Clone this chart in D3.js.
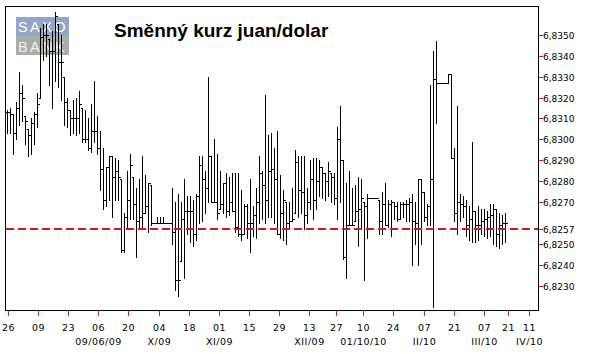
<!DOCTYPE html>
<html>
<head>
<meta charset="utf-8">
<title>Směnný kurz juan/dolar</title>
<script src="https://d3js.org/d3.v7.min.js"></script>
<style>
  body { margin: 0; background: #fff; }
  svg { display: block; }
  .title { font-family: "Liberation Sans", Arial, sans-serif; font-size: 19px; font-weight: bold; fill: #000; }
  .logo { font-family: "Liberation Sans", Arial, sans-serif; font-size: 14.5px; letter-spacing: 2.4px; }
  .ylab { font-family: "DejaVu Sans", Verdana, sans-serif; font-size: 9px; fill: #000; }
  .xlab { font-family: "DejaVu Sans", Verdana, sans-serif; font-size: 9.5px; letter-spacing: 0.5px; fill: #000; text-anchor: middle; }
  .crisp { shape-rendering: crispEdges; }
</style>
</head>
<body>
<div id="chart"></div>
<script>
// daily CNY/USD bars, 26 Aug 2009 .. early Apr 2010
const highs = [
  6.8314, 6.8315, 6.8312, 6.8318, 6.8332, 6.8326, 6.8311, 6.8305, 6.8310, 6.8313,
  6.8322, 6.8353, 6.8355, 6.8355, 6.8348, 6.8352, 6.8361, 6.8355, 6.8350, 6.8330,
  6.8320, 6.8314, 6.8319, 6.8320, 6.8323, 6.8315, 6.8314, 6.8310, 6.8317, 6.8328,
  6.8311, 6.8304, 6.8296, 6.8287, 6.8292, 6.8292, 6.8291, 6.8290, 6.8281, 6.8265,
  6.8285, 6.8293, 6.8282, 6.8277, 6.8281, 6.8292, 6.8283, 6.8279, 6.8278, 6.8260,
  6.8263, 6.8263, 6.8263, 6.8260, 6.8260, 6.8277, 6.8270, 6.8274, 6.8270, 6.8281,
  6.8273, 6.8273, 6.8271, 6.8274, 6.8292, 6.8292, 6.8285, 6.8330, 6.8292, 6.8300,
  6.8293, 6.8285, 6.8279, 6.8284, 6.8282, 6.8284, 6.8284, 6.8284, 6.8276, 6.8269,
  6.8269, 6.8281, 6.8268, 6.8277, 6.8292, 6.8285, 6.8321, 6.8302, 6.8303, 6.8296,
  6.8304, 6.8283, 6.8276, 6.8270, 6.8270, 6.8277, 6.8295, 6.8292, 6.8292, 6.8292,
  6.8277, 6.8290, 6.8291, 6.8291, 6.8290, 6.8287, 6.8284, 6.8289, 6.8284, 6.8284,
  6.8306, 6.8316, 6.8290, 6.8279, 6.8285, 6.8277, 6.8278, 6.8282, 6.8281, 6.8270,
  6.8274, 6.8272, 6.8272, 6.8272, 6.8271, 6.8275, 6.8279, 6.8271, 6.8271, 6.8270,
  6.8270, 6.8270, 6.8270, 6.8271, 6.8272, 6.8274, 6.8270, 6.8281, 6.8281, 6.8275,
  6.8269, 6.8326, 6.8342, 6.8347, 6.8327, 6.8327, 6.8327, 6.8331, 6.8331, 6.8296,
  6.8316, 6.8274, 6.8273, 6.8271, 6.8268, 6.8299, 6.8266, 6.8268, 6.8267, 6.8267,
  6.8266, 6.8269, 6.8269, 6.8267, 6.8265, 6.8264, 6.8265
];
const lows = [
  6.8303, 6.8303, 6.8293, 6.8300, 6.8307, 6.8309, 6.8298, 6.8292, 6.8293, 6.8298,
  6.8306, 6.8320, 6.8338, 6.8340, 6.8326, 6.8315, 6.8328, 6.8325, 6.8319, 6.8307,
  6.8306, 6.8302, 6.8303, 6.8302, 6.8303, 6.8299, 6.8299, 6.8295, 6.8294, 6.8299,
  6.8293, 6.8276, 6.8267, 6.8268, 6.8271, 6.8263, 6.8271, 6.8271, 6.8246, 6.8246,
  6.8257, 6.8262, 6.8262, 6.8244, 6.8258, 6.8257, 6.8265, 6.8256, 6.8259, 6.8260,
  6.8260, 6.8260, 6.8260, 6.8260, 6.8260, 6.8250, 6.8228, 6.8225, 6.8242, 6.8234,
  6.8255, 6.8251, 6.8249, 6.8252, 6.8260, 6.8261, 6.8265, 6.8270, 6.8270, 6.8270,
  6.8262, 6.8267, 6.8265, 6.8263, 6.8264, 6.8266, 6.8256, 6.8254, 6.8252, 6.8255,
  6.8253, 6.8246, 6.8254, 6.8253, 6.8260, 6.8262, 6.8260, 6.8263, 6.8263, 6.8260,
  6.8255, 6.8253, 6.8252, 6.8250, 6.8257, 6.8261, 6.8265, 6.8263, 6.8265, 6.8257,
  6.8260, 6.8267, 6.8262, 6.8267, 6.8273, 6.8272, 6.8271, 6.8273, 6.8270, 6.8269,
  6.8262, 6.8270, 6.8243, 6.8234, 6.8259, 6.8259, 6.8261, 6.8249, 6.8258, 6.8233,
  6.8253, 6.8272, 6.8272, 6.8272, 6.8255, 6.8255, 6.8259, 6.8258, 6.8254, 6.8262,
  6.8261, 6.8262, 6.8263, 6.8261, 6.8261, 6.8240, 6.8250, 6.8240, 6.8250, 6.8261,
  6.8259, 6.8259, 6.8220, 6.8308, 6.8327, 6.8327, 6.8327, 6.8327, 6.8291, 6.8261,
  6.8255, 6.8261, 6.8263, 6.8254, 6.8252, 6.8251, 6.8251, 6.8252, 6.8255, 6.8254,
  6.8253, 6.8254, 6.8250, 6.8249, 6.8248, 6.8250, 6.8251
];
const closes = [
  6.8313, 6.8312, 6.8303, 6.8315, 6.8322, 6.8320, 6.8309, 6.8302, 6.8308, 6.8312,
  6.8317, 6.8349, 6.8350, 6.8350, 6.8342, 6.8342, 6.8359, 6.8337, 6.8337, 6.8318,
  6.8314, 6.8310, 6.8310, 6.8310, 6.8317, 6.8300, 6.8300, 6.8296, 6.8304, 6.8304,
  6.8296, 6.8286, 6.8271, 6.8287, 6.8292, 6.8282, 6.8285, 6.8282, 6.8247, 6.8263,
  6.8271, 6.8288, 6.8269, 6.8261, 6.8263, 6.8265, 6.8268, 6.8279, 6.8260, 6.8260,
  6.8260, 6.8260, 6.8260, 6.8260, 6.8260, 6.8256, 6.8233, 6.8233, 6.8262, 6.8266,
  6.8266, 6.8266, 6.8255, 6.8273, 6.8288, 6.8281, 6.8277, 6.8292, 6.8270, 6.8270,
  6.8265, 6.8269, 6.8279, 6.8266, 6.8270, 6.8266, 6.8258, 6.8255, 6.8255, 6.8268,
  6.8260, 6.8260, 6.8264, 6.8270, 6.8284, 6.8278, 6.8271, 6.8285, 6.8286, 6.8281,
  6.8255, 6.8265, 6.8271, 6.8260, 6.8261, 6.8262, 6.8289, 6.8276, 6.8275, 6.8264,
  6.8270, 6.8281, 6.8271, 6.8280, 6.8287, 6.8284, 6.8280, 6.8285, 6.8282, 6.8272,
  6.8300, 6.8290, 6.8244, 6.8259, 6.8259, 6.8259, 6.8266, 6.8267, 6.8272, 6.8268,
  6.8272, 6.8272, 6.8272, 6.8272, 6.8261, 6.8269, 6.8259, 6.8269, 6.8270, 6.8268,
  6.8262, 6.8269, 6.8269, 6.8269, 6.8270, 6.8261, 6.8260, 6.8281, 6.8275, 6.8263,
  6.8268, 6.8281, 6.8329, 6.8327, 6.8327, 6.8327, 6.8327, 6.8331, 6.8291, 6.8265,
  6.8270, 6.8269, 6.8268, 6.8259, 6.8262, 6.8266, 6.8259, 6.8259, 6.8261, 6.8262,
  6.8263, 6.8264, 6.8267, 6.8255, 6.8259, 6.8260, 6.8260
];

const yTicks = [6.8350, 6.8340, 6.8330, 6.8320, 6.8310, 6.8300, 6.8290, 6.8280, 6.8270, 6.8250, 6.8240, 6.8230];
const refLevel = 6.8257;

// x ticks sit between trading days, counted in bar numbers
const dayTicks = [1.3, 11.4, 21.3, 31.4, 41.3, 51.6, 61.6, 71.6, 81.6, 91.6, 101.6, 110.6, 119.6, 129.6, 139.9, 149.9, 159.9, 167.9, 174.9];
const dayLabels = ["26", "09", "23", "06", "20", "04", "18", "01", "15", "29", "13", "27", "10", "24", "07", "21", "07", "21", "11"];
const monthLabels = ["", "", "", "09/06/09", "", "X/09", "", "XI/09", "", "", "XII/09", "", "01/10/10", "", "II/10", "", "III/10", "", "IV/10"];

const red = "#d01c1c";
const frame = {left: 5.5, top: 6.5, right: 538.5, bottom: 310.5};

const svg = d3.select("#chart").append("svg")
  .attr("width", 589)
  .attr("height", 354);

const x = d3.scaleLinear().domain([1, closes.length]).range([7.5, 505.5]);
const y = d3.scaleLinear().domain([6.8230, 6.8350]).range([286, 34.7]);
const col = i => Math.round(x(i) - 0.5);
const row = v => Math.round(y(v));

// logo
const logo = svg.append("g");
logo.append("rect").attr("x", 16).attr("y", 17).attr("width", 53).attr("height", 19).attr("fill", "#93a6ca");
logo.append("rect").attr("x", 16).attr("y", 36).attr("width", 53).attr("height", 19).attr("fill", "#a8afa9");
logo.append("text").attr("class", "logo").attr("x", 18).attr("y", 32).attr("fill", "#fff").text("SAXO");
logo.append("text").attr("class", "logo").attr("x", 18).attr("y", 52).attr("fill", "#eef0ee").text("BANK");

// title
svg.append("text")
  .attr("class", "title")
  .attr("x", 114)
  .attr("y", 37)
  .text("Směnný kurz juan/dolar");

// bars
const bars = closes.map((c, k) => ({
  i: k + 1,
  high: highs[k],
  low: lows[k],
  close: c,
  prev: k > 0 ? closes[k - 1] : c
}));

const g = svg.append("g").attr("fill", "#000").attr("class", "crisp");
g.selectAll(".hl")
  .data(bars)
  .join("rect")
    .attr("class", "hl")
    .attr("x", d => col(d.i))
    .attr("y", d => row(d.high))
    .attr("width", 1)
    .attr("height", d => row(d.low) - row(d.high) + 1);

g.selectAll(".cl")
  .data(bars)
  .join("rect")
    .attr("class", "cl")
    .attr("x", d => col(d.i) + 1)
    .attr("y", d => row(d.close))
    .attr("width", 2)
    .attr("height", 1);

g.selectAll(".op")
  .data(bars)
  .join("rect")
    .attr("class", "op")
    .attr("x", d => col(d.i) - 1)
    .attr("y", d => row(Math.max(d.low, Math.min(d.high, d.prev))))
    .attr("width", 1)
    .attr("height", 1);

// reference level
const ry = row(refLevel);
svg.append("line")
  .attr("class", "crisp")
  .attr("x1", 6).attr("x2", 539)
  .attr("y1", ry).attr("y2", ry)
  .attr("stroke", red)
  .attr("stroke-width", 2)
  .attr("stroke-dasharray", "8,4");

// frame
svg.append("rect")
  .attr("class", "crisp")
  .attr("x", frame.left)
  .attr("y", frame.top)
  .attr("width", frame.right - frame.left)
  .attr("height", frame.bottom - frame.top)
  .attr("fill", "none")
  .attr("stroke", "#000")
  .attr("stroke-width", 1);

// right axis
const fmt = v => d3.format(".4f")(v).replace(".", ",");
const yAll = yTicks.concat([refLevel]);
svg.selectAll(".ytick")
  .data(yAll)
  .join("line")
    .attr("class", "ytick crisp")
    .attr("x1", 539).attr("x2", 543)
    .attr("y1", d => row(d) + 0.5)
    .attr("y2", d => row(d) + 0.5)
    .attr("stroke", red);

svg.selectAll(".ylab")
  .data(yAll)
  .join("text")
    .attr("class", "ylab")
    .attr("x", 543)
    .attr("y", d => row(d) + 3.8)
    .attr("fill", d => d === refLevel ? red : "#000")
    .text(fmt);

// bottom axis
svg.selectAll(".xtick")
  .data(dayTicks)
  .join("line")
    .attr("class", "xtick crisp")
    .attr("x1", d => col(d) + 0.5)
    .attr("x2", d => col(d) + 0.5)
    .attr("y1", 311)
    .attr("y2", 316)
    .attr("stroke", red);

svg.selectAll(".xlab")
  .data(dayTicks)
  .join("text")
    .attr("class", "xlab")
    .attr("x", d => col(d) + 0.5)
    .attr("y", 331)
    .text((d, k) => dayLabels[k]);

svg.selectAll(".mlab")
  .data(dayTicks)
  .join("text")
    .attr("class", "xlab")
    .attr("x", d => col(d) + 0.5)
    .attr("y", 345)
    .text((d, k) => monthLabels[k]);
</script>
</body>
</html>
